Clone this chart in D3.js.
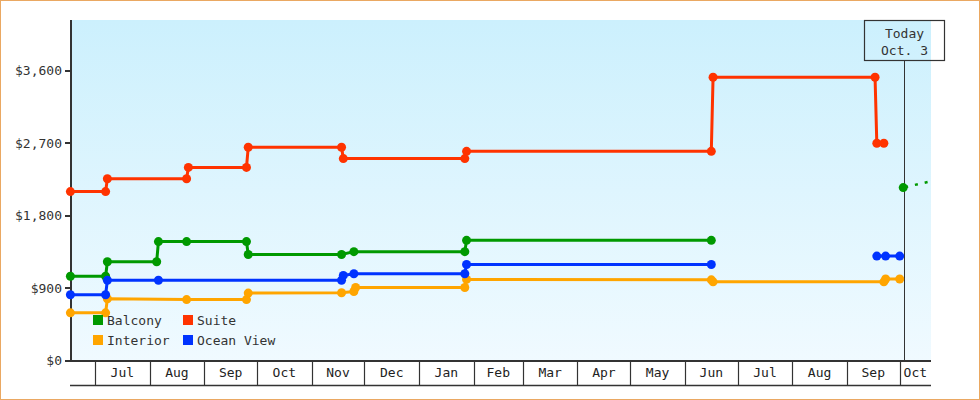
<!DOCTYPE html>
<html>
<head>
<meta charset="utf-8">
<script src="https://cdn.jsdelivr.net/npm/d3@7"></script>
<style>
  html, body { margin: 0; padding: 0; background: #fff; }
  svg { display: block; font-family: "DejaVu Sans Mono", monospace; }
</style>
</head>
<body>
<svg id="chart" width="980" height="400"></svg>
<script>
// cabin categories, in legend order
var cabins = ["Balcony", "Suite", "Interior", "Ocean View"];

// price observations [date, price]; null price = no data (gap)
var balcony = [
  ["2022-06-17", 1050], ["2022-07-07", 1050], ["2022-07-08", 1230], ["2022-08-05", 1230],
  ["2022-08-06", 1480], ["2022-08-22", 1480], ["2022-09-25", 1480], ["2022-09-26", 1320],
  ["2022-11-18", 1320], ["2022-11-25", 1355], ["2023-01-27", 1355], ["2023-01-28", 1495],
  ["2023-06-16", 1495], ["2023-08-01", null], ["2023-10-03", 2150]
];
var balconyForecast = [["2023-10-03", 2150], ["2023-10-19", 2230]];
var suite = [
  ["2022-06-17", 2100], ["2022-07-07", 2100], ["2022-07-08", 2260], ["2022-08-22", 2260],
  ["2022-08-23", 2400], ["2022-09-25", 2400], ["2022-09-26", 2650], ["2022-11-18", 2650],
  ["2022-11-19", 2510], ["2023-01-27", 2510], ["2023-01-28", 2600], ["2023-06-16", 2600],
  ["2023-06-17", 3520], ["2023-09-17", 3520], ["2023-09-18", 2700], ["2023-09-22", 2700]
];
var interior = [
  ["2022-06-17", 595], ["2022-07-07", 595], ["2022-07-08", 770], ["2022-08-22", 760],
  ["2022-09-25", 760], ["2022-09-26", 840], ["2022-11-18", 845], ["2022-11-25", 860],
  ["2022-11-26", 910], ["2023-01-27", 910], ["2023-01-28", 1010], ["2023-06-16", 1005],
  ["2023-06-17", 980], ["2023-09-22", 980], ["2023-09-23", 1015], ["2023-10-01", 1015]
];
var oceanView = [
  ["2022-06-17", 820], ["2022-07-07", 820], ["2022-07-08", 1000], ["2022-08-06", 1000],
  ["2022-11-18", 1000], ["2022-11-19", 1060], ["2022-11-25", 1080], ["2023-01-27", 1080],
  ["2023-01-28", 1195], ["2023-06-16", 1195], ["2023-08-01", null], ["2023-09-18", 1300],
  ["2023-09-23", 1300], ["2023-10-01", 1300]
];
var yTicks = [0, 900, 1800, 2700, 3600];
var todayDate = "2023-10-03";
var todayLabel = ["Today", "Oct. 3"];
var xDomain = ["2022-06-17", "2023-10-19"];

var colors = { "Balcony": "#009900", "Suite": "#ff3300", "Interior": "#ffa500", "Ocean View": "#0033ff" };
var seriesData = { "Balcony": balcony, "Suite": suite, "Interior": interior, "Ocean View": oceanView };

var parse = d3.utcParse("%Y-%m-%d");
var plotL = 71, plotR = 931, plotT = 20, plotB = 361;

var x = d3.scaleUtc().domain(xDomain.map(parse)).range([70.4, 931.4]);
var y = d3.scaleLinear().domain([0, 4230]).range([360.8, 20]);

var svg = d3.select("#chart");
var defs = svg.append("defs");
var grad = defs.append("linearGradient").attr("id", "bg").attr("x1", 0).attr("y1", 0).attr("x2", 0).attr("y2", 1);
grad.append("stop").attr("offset", "0%").attr("stop-color", "#ccf0fd");
grad.append("stop").attr("offset", "100%").attr("stop-color", "#f0faff");
defs.append("clipPath").attr("id", "clip").append("rect")
  .attr("x", plotL).attr("y", plotT).attr("width", plotR - plotL).attr("height", plotB - plotT);

// outer border
svg.append("rect").attr("x", 0.5).attr("y", 0.5).attr("width", 979).attr("height", 399)
  .attr("fill", "#fff").attr("stroke", "#eaa862");

// plot background
svg.append("rect").attr("x", plotL).attr("y", plotT).attr("width", plotR - plotL).attr("height", plotB - plotT)
  .attr("fill", "url(#bg)");

// month band below the plot
var months = d3.utcMonth.range(d3.utcMonth.floor(x.domain()[0]), x.domain()[1]);
var band = svg.append("g");
band.append("line").attr("x1", 70).attr("x2", plotR).attr("y1", 385.5).attr("y2", 385.5)
  .attr("stroke", "#333").attr("stroke-width", 1.5);
band.selectAll("line.div").data(months.filter(function(m) { return x(m) > plotL; })).enter()
  .append("line").attr("class", "div")
  .attr("x1", function(d) { return Math.round(x(d)) + 0.5; })
  .attr("x2", function(d) { return Math.round(x(d)) + 0.5; })
  .attr("y1", 361).attr("y2", 385)
  .attr("stroke", "#333").attr("stroke-width", 1.2);
band.selectAll("text").data(months).enter().append("text")
  .each(function(d) {
    var a = Math.max(x(d), plotL), b = Math.min(x(d3.utcMonth.offset(d, 1)), plotR);
    var t = d3.select(this);
    if (b - a < 28) { t.remove(); return; }
    t.attr("x", (a + b) / 2).attr("y", 377).attr("text-anchor", "middle")
      .attr("font-size", 13).attr("fill", "#222").text(d3.utcFormat("%b")(d));
  });

// x axis line
svg.append("line").attr("x1", 70).attr("x2", plotR).attr("y1", 361).attr("y2", 361)
  .attr("stroke", "#333").attr("stroke-width", 2);

// y axis
var yAxis = svg.append("g");
yAxis.append("line").attr("x1", 71).attr("x2", 71).attr("y1", plotT).attr("y2", 362)
  .attr("stroke", "#333").attr("stroke-width", 2);
yAxis.selectAll("line.tick").data(yTicks).enter().append("line").attr("class", "tick")
  .attr("x1", 65).attr("x2", 71)
  .attr("y1", function(d) { return Math.round(y(d)); })
  .attr("y2", function(d) { return Math.round(y(d)); })
  .attr("stroke", "#333").attr("stroke-width", 2);
yAxis.selectAll("text").data(yTicks).enter().append("text")
  .attr("x", 62).attr("y", function(d) { return y(d) + 4.5; })
  .attr("text-anchor", "end").attr("font-size", 13).attr("fill", "#333")
  .text(function(d) { return "$" + d3.format(",")(d); });

// today marker
var tx = Math.round(x(parse(todayDate))) + 1.5;
svg.append("line").attr("x1", tx).attr("x2", tx).attr("y1", 60.5).attr("y2", 361)
  .attr("stroke", "#333").attr("stroke-width", 1);
svg.append("rect").attr("x", 864.5).attr("y", 20.5).attr("width", 80).attr("height", 40)
  .attr("fill", "none").attr("stroke", "#333").attr("stroke-width", 1.2);
svg.selectAll("text.today").data(todayLabel).enter().append("text").attr("class", "today")
  .attr("x", tx).attr("y", function(d, i) { return 37.5 + i * 17; })
  .attr("text-anchor", "middle").attr("font-size", 13).attr("fill", "#333")
  .text(function(d) { return d; });

// series
var line = d3.line()
  .defined(function(d) { return d[1] !== null; })
  .x(function(d) { return x(parse(d[0])); })
  .y(function(d) { return y(d[1]); });

var seriesG = svg.append("g");
cabins.forEach(function(name) {
  var data = seriesData[name];
  seriesG.append("path").datum(data).attr("d", line)
    .attr("fill", "none").attr("stroke", colors[name]).attr("stroke-width", 3)
    .attr("stroke-linejoin", "round");
});
svg.append("path").datum(balconyForecast).attr("d", line).attr("clip-path", "url(#clip)")
  .attr("fill", "none").attr("stroke", colors["Balcony"]).attr("stroke-width", 2.5)
  .attr("stroke-dasharray", "3,7").attr("stroke-dashoffset", -2);
cabins.forEach(function(name) {
  var data = seriesData[name].filter(function(d) { return d[1] !== null; });
  seriesG.selectAll(null).data(data).enter().append("circle")
    .attr("cx", function(d) { return x(parse(d[0])); })
    .attr("cy", function(d) { return y(d[1]); })
    .attr("r", 4.5).attr("fill", colors[name]);
});

// legend
var legend = svg.append("g");
cabins.forEach(function(name, i) {
  var col = i % 2, row = Math.floor(i / 2);
  var lx = 93 + col * 90, ly = 315 + row * 20;
  legend.append("rect").attr("x", lx).attr("y", ly).attr("width", 10).attr("height", 10)
    .attr("fill", colors[name]);
  legend.append("text").attr("x", lx + 14).attr("y", ly + 10)
    .attr("font-size", 13).attr("fill", "#333").text(name);
});
</script>
</body>
</html>
